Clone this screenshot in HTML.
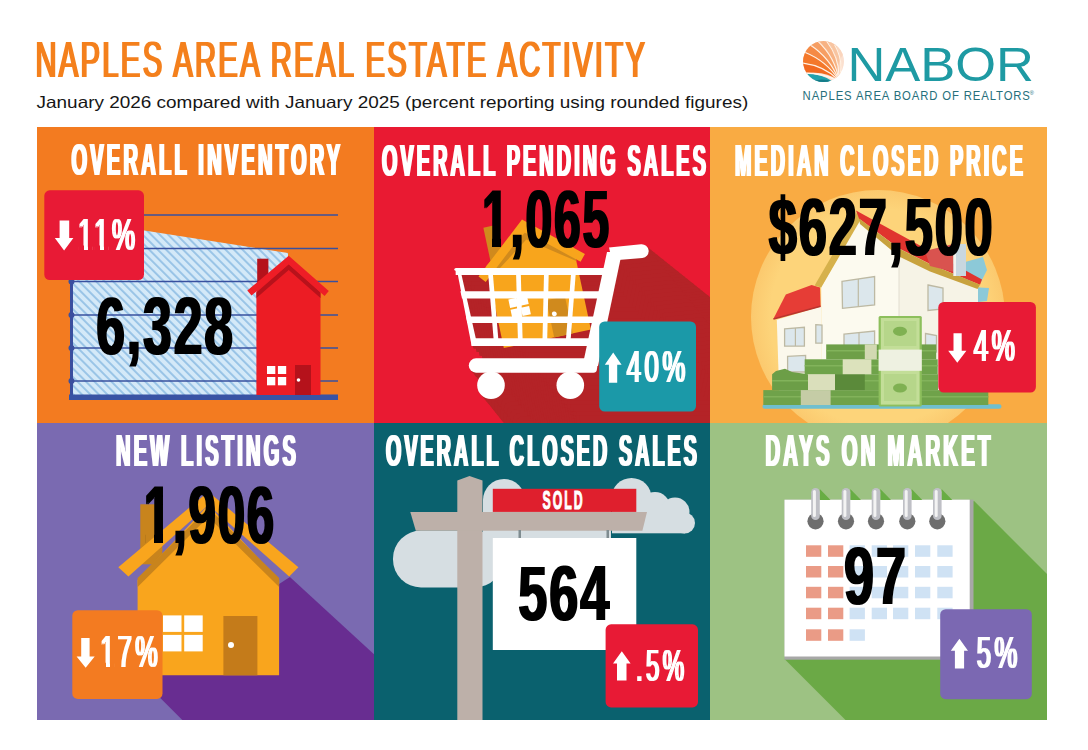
<!DOCTYPE html>
<html>
<head>
<meta charset="utf-8">
<title>Naples Area Real Estate Activity</title>
<style>
html,body{margin:0;padding:0;background:#fff;}
body{width:1088px;height:750px;overflow:hidden;}
svg{display:block;}
text{font-family:"Liberation Sans",sans-serif;}
.t{font-weight:normal;fill:#fff;letter-spacing:6px;filter:url(#dxb);}
.tt{font-weight:bold;fill:#fff;letter-spacing:7px;filter:url(#dx);}
.n{font-weight:bold;fill:#000;letter-spacing:3px;filter:url(#dxn);}
</style>
</head>
<body>
<svg width="1088" height="750" viewBox="0 0 1088 750">
<defs>
  <pattern id="hatch" patternUnits="userSpaceOnUse" width="6" height="6" patternTransform="rotate(-45)">
    <rect width="6" height="6" fill="#D4E9F8"/>
    <rect x="0" y="0" width="1.9" height="6" fill="#97C3E6"/>
  </pattern>
  <filter id="dx" x="-5%" y="-10%" width="110%" height="120%"><feMorphology operator="dilate" radius="1 0"/></filter>
  <filter id="dxb" x="-5%" y="-10%" width="110%" height="120%"><feMorphology operator="dilate" radius="1.3 0"/></filter>
  <filter id="dxh" x="-5%" y="-10%" width="110%" height="120%"><feMorphology operator="dilate" radius="1 0"/></filter>
  <filter id="dxn" x="-5%" y="-10%" width="110%" height="120%"><feMorphology operator="dilate" radius="1 0"/></filter>
  <radialGradient id="circg" cx="0.5" cy="0.5" r="0.5"><stop offset="0.85" stop-color="#FDD47A"/><stop offset="1" stop-color="#FBC96E"/></radialGradient>
  <clipPath id="nf1"><path clip-rule="evenodd" d="M0 0H1088V750H0Z M483.5 237.7H492.0V248.5H483.5Z M501.0 237.7H509.5V248.5H501.0Z"/></clipPath>
  <clipPath id="nf2"><path clip-rule="evenodd" d="M0 0H1088V750H0Z M145.5 533.6H154.0V544.5H145.5Z M163.0 533.6H171.5V544.5H163.0Z"/></clipPath>
  <clipPath id="nf3"><path clip-rule="evenodd" d="M0 0H1088V750H0Z M78.5 245.5H84.0V251.3H78.5Z M88.0 245.5H92.5V251.3H88.0Z M94.5 245.5H100.0V251.3H94.5Z M104.0 245.5H108.5V251.3H104.0Z"/></clipPath>
  <clipPath id="nf4"><path clip-rule="evenodd" d="M0 0H1088V750H0Z M100.5 662.7H106.0V668.5H100.5Z M110.0 662.7H114.5V668.5H110.0Z"/></clipPath>
  <clipPath id="c1"><rect x="37" y="127" width="337" height="296"/></clipPath>
  <clipPath id="c2"><rect x="374" y="127" width="336" height="296"/></clipPath>
  <clipPath id="c3"><rect x="710" y="127" width="337" height="296"/></clipPath>
  <clipPath id="c4"><rect x="37" y="423" width="337" height="297"/></clipPath>
  <clipPath id="c5"><rect x="374" y="423" width="336" height="297"/></clipPath>
  <clipPath id="c6"><rect x="710" y="423" width="337" height="297"/></clipPath>
  <clipPath id="shellclip"><circle cx="823.5" cy="61.5" r="20.5"/></clipPath>
  <g id="cartsil">
    <polygon points="455.6,267.9 612,267.9 612,274.9 455.7,274.9"/>
    <path d="M 456.5,267.9 L 460,267.9 L 477.5,345.9 L 471.7,345.9 Z"/>
    <path d="M 454.1,270 Q 454.1,267.9 456.5,267.9 L 458,272 Z"/>
    <polygon points="460.4,291.3 606,291.3 605,298.4 462.0,298.4"/>
    <polygon points="466.0,316.5 600,316.5 598,323 467.5,323"/>
    <polygon points="470.9,338.3 592,338.3 590,345.9 471.7,345.9"/>
    <polygon points="488.2,274 492.9,274 498.3,339 493.6,339"/>
    <polygon points="516.1,274 520.8,274 522.6,339 517.9,339"/>
    <polygon points="544,274 548.7,274 547.2,339 542.5,339"/>
    <polygon points="571,274 575.7,274 570.7,339 566,339"/>
    <polygon points="607,252 622,252 598,366 582.5,366"/>
    <path d="M 609,247.5 L 641,244.2 A 6.9 6.9 0 0 1 642.4,258 L 612,260.5 Z"/>
    <path d="M 476,358.3 L 596,358.3 Q 598.5,358.3 598,362 L 596.8,370 Q 596.3,372.7 593.5,372.7 L 476,372.7 A 7.2 7.2 0 0 1 476,358.3 Z"/>
    <circle cx="491" cy="385.2" r="13.8"/>
    <circle cx="570.3" cy="385.2" r="13.8"/>
  </g>
</defs>

<!-- HEADER -->
<text x="35.4" y="76.9" font-size="50.4" fill="#F4801F" letter-spacing="4" filter="url(#dxh)" textLength="611.8" lengthAdjust="spacingAndGlyphs">NAPLES AREA REAL ESTATE ACTIVITY</text>
<text x="36.6" y="108" font-size="16.5" fill="#161616" textLength="711.6" lengthAdjust="spacingAndGlyphs">January 2026 compared with January 2025 (percent reporting using rounded figures)</text>

<!-- NABOR logo -->
<g clip-path="url(#shellclip)">
  <rect x="800" y="38" width="48" height="48" fill="#FBE0CF"/>
  <path d="M 839.0 80.5 Q 824.2 70.2 806.5 73.5 L 796.8 71.4 L 792.5 57.8 L 803.2 63.0 Q 824.2 65.5 839.0 80.5 Z" fill="#F2691F"/>
  <path d="M 839.0 80.5 Q 824.2 65.5 803.2 63.0 L 792.5 57.8 L 795.5 43.4 L 805.5 52.0 Q 826.8 60.9 839.0 80.5 Z" fill="#F4782A"/>
  <path d="M 839.0 80.5 Q 826.8 60.9 805.5 52.0 L 795.5 43.4 L 802.6 33.7 L 811.0 44.5 Q 830.5 58.2 839.0 80.5 Z" fill="#F58A45"/>
  <path d="M 839.0 80.5 Q 830.5 58.2 811.0 44.5 L 802.6 33.7 L 813.0 28.9 L 819.0 40.8 Q 835.3 57.5 839.0 80.5 Z" fill="#F69E63"/>
  <path d="M 839.0 80.5 Q 835.3 57.5 819.0 40.8 L 813.0 28.9 L 824.7 29.1 L 828.0 41.0 Q 840.2 58.9 839.0 80.5 Z" fill="#F7B283"/>
  <path d="M 839.0 80.5 Q 840.2 58.9 828.0 41.0 L 824.7 29.1 L 835.1 33.7 L 836.0 44.5 Q 844.5 61.9 839.0 80.5 Z" fill="#F8C4A0"/>
  <path d="M 839.0 80.5 Q 844.5 61.9 836.0 44.5 L 835.1 33.7 L 844.9 46.0 L 843.5 54.0 Q 834.3 66.1 839.0 80.5 Z" fill="#FAD5BD"/>
  <path d="M 836 84 Q 823.8 73.1 800.5 73.0 L 790 100 L 850 100 Z" fill="#22A1AC"/>
  <path d="M 813 81 Q 823 77.5 833 81.8 L 833 86 L 813 86 Z" fill="#147C89"/>
  <path d="M 839 81.5 Q 823.8 72.6 800.5 73.0" stroke="#FFF6EE" stroke-width="1.3" fill="none"/>
  <g stroke="#FFF1E4" stroke-width="1.1" fill="none"><path d="M 839.0 80.5 Q 824.2 65.5 801.7 63.0"/><path d="M 839.0 80.5 Q 826.8 60.9 804.0 52.0"/><path d="M 839.0 80.5 Q 830.5 58.2 809.5 44.5"/><path d="M 839.0 80.5 Q 835.3 57.5 817.5 40.8"/><path d="M 839.0 80.5 Q 840.2 58.9 826.5 41.0"/><path d="M 839.0 80.5 Q 844.5 61.9 834.5 44.5"/></g>
</g>
<text x="847.4" y="81" font-size="48.5" fill="#1E9AA3" textLength="186.6" lengthAdjust="spacingAndGlyphs">NABOR</text>
<text x="802.6" y="100.3" font-size="12.8" fill="#266F7B" letter-spacing="1" textLength="228.2" lengthAdjust="spacingAndGlyphs">NAPLES AREA BOARD OF REALTORS</text>
<text x="1029.4" y="95" font-size="6" fill="#266F7B">®</text>

<!-- PANEL 1: OVERALL INVENTORY -->
<g clip-path="url(#c1)">
  <rect x="37" y="127" width="337" height="296" fill="#F37B20"/>
  <polygon points="71,219 288,253 288,396 71,396" fill="url(#hatch)"/>
  <g stroke="#38509F" stroke-width="1.5">
    <line x1="71" y1="215" x2="338" y2="215"/>
    <line x1="71" y1="248.5" x2="338" y2="248.5"/>
    <line x1="71" y1="281.5" x2="338" y2="281.5"/>
    <line x1="71" y1="315" x2="338" y2="315"/>
    <line x1="71" y1="348" x2="338" y2="348"/>
    <line x1="71" y1="381" x2="338" y2="381"/>
  </g>
  <rect x="70" y="200" width="3" height="196" fill="#3A4F9F"/>
  <g fill="#3A4F9F">
    <circle cx="71.5" cy="281.5" r="3"/><circle cx="71.5" cy="315" r="3"/>
    <circle cx="71.5" cy="348" r="3"/><circle cx="71.5" cy="381" r="3"/>
  </g>
  <rect x="69" y="394.5" width="269" height="5.5" fill="#3953A4"/>
  <!-- house -->
  <rect x="257.2" y="258.7" width="11.2" height="30" fill="#B5121B"/>
  <polygon points="256.4,395 256.4,287.6 288.7,260 320.5,287.6 320.5,395" fill="#EC1C24"/>
  <polygon points="256.4,292.5 288.7,264.3 320.5,292.5 320.5,298 288.7,270 256.4,298" fill="#B8121B"/>
  <polygon points="247.3,290.5 288.7,255.8 328.8,291 324.6,296 288.7,264.3 251.5,295.5" fill="#EE1D26"/>
  <rect x="295" y="365" width="16" height="30" fill="#B5121B"/>
  <circle cx="298.5" cy="380" r="1.8" fill="#fff"/>
  <g fill="#fff">
    <rect x="267" y="366" width="8.3" height="8"/><rect x="277.9" y="366" width="8.3" height="8"/>
    <rect x="267" y="377" width="8.3" height="8.3"/><rect x="277.9" y="377" width="8.3" height="8.3"/>
  </g>
  <!-- badge -->
  <rect x="44.3" y="190.3" width="99.7" height="89.7" rx="5.5" fill="#E81A35"/>
  <polygon points="59.6,220.6 69.2,220.6 69.2,238 73.4,238 64.1,250.6 54.8,238 59.6,238" fill="#fff"/>
  <text class="t" clip-path="url(#nf3)" x="78.0" y="250" font-size="43.5" textLength="60.8" lengthAdjust="spacingAndGlyphs">11%</text>
  <text class="tt" x="71.4" y="175" font-size="43.5" textLength="272.0" lengthAdjust="spacingAndGlyphs">OVERALL INVENTORY</text>
  <text class="n" x="96.2" y="354" font-size="80.8" textLength="138.8" lengthAdjust="spacingAndGlyphs">6,328</text>
</g>

<!-- PANEL 2: OVERALL PENDING SALES -->
<g clip-path="url(#c2)">
  <rect x="374" y="127" width="336" height="296" fill="#E91A32"/>
  <!-- shadow (sweep of cart along 45deg) -->
  <g fill="#B42327">
    <use href="#cartsil" transform="translate(2,1.6)"/>
    <use href="#cartsil" transform="translate(5,4.0)"/>
    <use href="#cartsil" transform="translate(8,6.4)"/>
    <use href="#cartsil" transform="translate(11,8.8)"/>
    <use href="#cartsil" transform="translate(14,11.2)"/>
    <use href="#cartsil" transform="translate(17,13.6)"/>
    <use href="#cartsil" transform="translate(20,16.0)"/>
    <use href="#cartsil" transform="translate(23,18.4)"/>
    <use href="#cartsil" transform="translate(26,20.8)"/>
    <use href="#cartsil" transform="translate(29,23.2)"/>
    <use href="#cartsil" transform="translate(32,25.6)"/>
    <use href="#cartsil" transform="translate(35,28.0)"/>
    <use href="#cartsil" transform="translate(38,30.4)"/>
    <use href="#cartsil" transform="translate(41,32.8)"/>
    <use href="#cartsil" transform="translate(44,35.2)"/>
    <use href="#cartsil" transform="translate(47,37.6)"/>
    <use href="#cartsil" transform="translate(50,40.0)"/>
    <use href="#cartsil" transform="translate(53,42.4)"/>
    <use href="#cartsil" transform="translate(56,44.8)"/>
    <use href="#cartsil" transform="translate(59,47.2)"/>
    <use href="#cartsil" transform="translate(62,49.6)"/>
    <use href="#cartsil" transform="translate(65,52.0)"/>
    <use href="#cartsil" transform="translate(68,54.4)"/>
    <use href="#cartsil" transform="translate(71,56.8)"/>
    <use href="#cartsil" transform="translate(74,59.2)"/>
    <use href="#cartsil" transform="translate(77,61.6)"/>
    <use href="#cartsil" transform="translate(80,64.0)"/>
    <use href="#cartsil" transform="translate(83,66.4)"/>
    <use href="#cartsil" transform="translate(86,68.8)"/>
    <use href="#cartsil" transform="translate(89,71.2)"/>
    <use href="#cartsil" transform="translate(92,73.6)"/>
    <use href="#cartsil" transform="translate(95,76.0)"/>
    <use href="#cartsil" transform="translate(98,78.4)"/>
    <use href="#cartsil" transform="translate(101,80.8)"/>
    <use href="#cartsil" transform="translate(104,83.2)"/>
    <use href="#cartsil" transform="translate(107,85.6)"/>
    <use href="#cartsil" transform="translate(110,88.0)"/>
    <use href="#cartsil" transform="translate(113,90.4)"/>
    <use href="#cartsil" transform="translate(116,92.8)"/>
    <use href="#cartsil" transform="translate(119,95.2)"/>
    <use href="#cartsil" transform="translate(122,97.6)"/>
    <use href="#cartsil" transform="translate(125,100.0)"/>
    <use href="#cartsil" transform="translate(128,102.4)"/>
    <use href="#cartsil" transform="translate(131,104.8)"/>
    <use href="#cartsil" transform="translate(134,107.2)"/>
    <use href="#cartsil" transform="translate(137,109.6)"/>
    <use href="#cartsil" transform="translate(140,112.0)"/>
    <use href="#cartsil" transform="translate(143,114.4)"/>
    <use href="#cartsil" transform="translate(146,116.8)"/>
    <use href="#cartsil" transform="translate(149,119.2)"/>
    <use href="#cartsil" transform="translate(152,121.6)"/>
    <use href="#cartsil" transform="translate(155,124.0)"/>
    <use href="#cartsil" transform="translate(158,126.4)"/>
    <use href="#cartsil" transform="translate(161,128.8)"/>
    <use href="#cartsil" transform="translate(164,131.2)"/>
    <use href="#cartsil" transform="translate(167,133.6)"/>
    <use href="#cartsil" transform="translate(2,2.5)"/>
    <use href="#cartsil" transform="translate(5,6.2)"/>
    <use href="#cartsil" transform="translate(8,9.9)"/>
    <use href="#cartsil" transform="translate(11,13.6)"/>
    <use href="#cartsil" transform="translate(14,17.4)"/>
    <use href="#cartsil" transform="translate(17,21.1)"/>
    <use href="#cartsil" transform="translate(20,24.8)"/>
    <use href="#cartsil" transform="translate(23,28.5)"/>
    <use href="#cartsil" transform="translate(26,32.2)"/>
    <use href="#cartsil" transform="translate(29,36.0)"/>
    <use href="#cartsil" transform="translate(32,39.7)"/>
    <use href="#cartsil" transform="translate(35,43.4)"/>
    <use href="#cartsil" transform="translate(38,47.1)"/>
    <use href="#cartsil" transform="translate(41,50.8)"/>
    <use href="#cartsil" transform="translate(44,54.6)"/>
    <use href="#cartsil" transform="translate(47,58.3)"/>
    <use href="#cartsil" transform="translate(50,62.0)"/>
    <use href="#cartsil" transform="translate(53,65.7)"/>
    <use href="#cartsil" transform="translate(56,69.4)"/>
    <use href="#cartsil" transform="translate(59,73.2)"/>
    <use href="#cartsil" transform="translate(62,76.9)"/>
    <use href="#cartsil" transform="translate(65,80.6)"/>
    <use href="#cartsil" transform="translate(68,84.3)"/>
    <use href="#cartsil" transform="translate(71,88.0)"/>
    <use href="#cartsil" transform="translate(74,91.8)"/>
    <use href="#cartsil" transform="translate(77,95.5)"/>
    <use href="#cartsil" transform="translate(80,99.2)"/>
    <use href="#cartsil" transform="translate(83,102.9)"/>
    <use href="#cartsil" transform="translate(86,106.6)"/>
    <use href="#cartsil" transform="translate(89,110.4)"/>
    <use href="#cartsil" transform="translate(92,114.1)"/>
    <use href="#cartsil" transform="translate(95,117.8)"/>
    <use href="#cartsil" transform="translate(98,121.5)"/>
    <use href="#cartsil" transform="translate(101,125.2)"/>
    <use href="#cartsil" transform="translate(104,129.0)"/>
    <use href="#cartsil" transform="translate(107,132.7)"/>
    <use href="#cartsil" transform="translate(110,136.4)"/>
    <use href="#cartsil" transform="translate(113,140.1)"/>
    <use href="#cartsil" transform="translate(116,143.8)"/>
    <use href="#cartsil" transform="translate(119,147.6)"/>
  </g>
  <!-- house in cart -->
  <g transform="translate(522,219.5) rotate(-12)">
    <rect x="-39.5" y="0" width="12.5" height="45" fill="#D08A1D"/>
    <polygon points="-44.5,38 0,6 44.5,38 44.5,122 -44.5,122" fill="#F8A51C"/>
    <polygon points="-44.5,45 0,13.5 44.5,45 44.5,52 0,20.5 -44.5,52" fill="#D08A1D"/>
    <polygon points="-54.4,46.8 0,0 54.4,46.8 48.5,53.6 0,11.8 -48.5,53.6" fill="#F8A51C"/>
    <rect x="7" y="84" width="19" height="38" fill="#D08A1D"/>
    <circle cx="12" cy="99" r="2.4" fill="#fff"/>
    <g fill="#fff"><rect x="-30" y="75.5" width="8.5" height="8.5"/><rect x="-19.5" y="75.5" width="8.5" height="8.5"/><rect x="-30" y="86" width="8.5" height="8.5"/><rect x="-19.5" y="86" width="8.5" height="8.5"/></g>
  </g>
  <!-- cart -->
  <use href="#cartsil" fill="#fff"/>
  <!-- badge -->
  <rect x="599.2" y="321.5" width="96.8" height="90.1" rx="5.5" fill="#1B99A8"/>
  <polygon points="608.9,382.7 617.2,382.7 617.2,364.7 621.6,364.7 613.2,352.5 604.8,364.7 608.9,364.7" fill="#fff"/>
  <text class="t" x="626.8" y="382" font-size="43.5" textLength="62.0" lengthAdjust="spacingAndGlyphs">40%</text>
  <text class="tt" x="382.0" y="175.8" font-size="43.5" textLength="327.0" lengthAdjust="spacingAndGlyphs">OVERALL PENDING SALES</text>
  <text class="n" clip-path="url(#nf1)" x="482.0" y="247.2" font-size="80.8" textLength="129.0" lengthAdjust="spacingAndGlyphs">1,065</text>
</g>

<!-- PANEL 3: MEDIAN CLOSED PRICE -->
<g clip-path="url(#c3)">
  <rect x="710" y="127" width="337" height="296" fill="#F9AB43"/>
  <circle cx="878" cy="317" r="127" fill="url(#circg)"/>
  <!-- light blue bits -->
  <polygon points="965,262 983,257 987,270 981,282 966,281" fill="#8CC9D8"/>
  <polygon points="971,287 989,288 987,301 971,303" fill="#8CC9D8"/>
  <!-- left wing -->
  <polygon points="776.8,319.8 821,306.6 821.5,402 779.5,402" fill="#FBF8EC"/>
  <polygon points="773.2,319.2 785.8,294.6 811.6,285 820,287.4 820.6,306.6" fill="#E63D36"/>
  <line x1="773.5" y1="319" x2="820.6" y2="306.3" stroke="#B93530" stroke-width="1.6"/>
  <!-- main walls -->
  <polygon points="821.2,402 821.2,287 859,221 978,287.5 978,402" fill="#FCFAEF"/>
  <polygon points="899,252 978,287.5 978,402 899,402" fill="#F6F3E6"/>
  <line x1="899" y1="252" x2="899" y2="402" stroke="#E2DED0" stroke-width="1"/>
  <!-- gable trim and roof -->
  <polygon points="814.6,285.6 821.2,287.5 861,219 857.5,211.5" fill="#D6B14B"/>
  <polygon points="856,210.5 982,279.5 980,284.8 930,264 899,248.5 859,218.5" fill="#E0332E"/>
  <polygon points="859,218.5 899,248.5 930,264 980,284.8 977.5,289 930,271.5 899,256.5 860,224" fill="#C8A23E"/>
  <polygon points="925,251 953,244 954,272 930,266" fill="#D9534F"/>
  <rect x="953.5" y="244" width="12.5" height="32" fill="#C8D7DF"/>
  <rect x="953.5" y="244" width="2.5" height="32" fill="#F2F2EE"/>
  <!-- windows -->
  <g fill="#DCE7EC" stroke="#BDB9A3" stroke-width="1.3">
    <polygon points="842,281.4 874.6,276.5 874.6,305 842.5,308.4"/>
    <polygon points="928,285 943,288 943,309 928,310.5"/>
    <polygon points="784.6,328.8 804.4,327.3 804.4,346 784.6,346.2"/>
    <polygon points="815.8,324.6 822,325 822,343.2 815.8,343.2"/>
    <polygon points="844,334.2 874.6,331 874.6,350 844,350"/>
    <polygon points="925.5,333.5 936.5,335.5 936.5,352 925.5,352"/>
    <polygon points="787.6,356.4 805.6,355.4 805.6,372 787.6,372"/>
  </g>
  <g stroke="#BDB9A3" stroke-width="1.2">
    <line x1="858.3" y1="279" x2="858.3" y2="306.5"/>
    <line x1="795.4" y1="328" x2="795.4" y2="346"/>
    <line x1="859" y1="332.5" x2="859" y2="350"/>
  </g>
  <!-- money -->
  <rect x="762.5" y="404.2" width="239" height="4.6" rx="2.3" fill="#6FBFCF"/>
  <rect x="763.3" y="390.1" width="225" height="14.9" fill="#6FA24A"/>
  <rect x="763.3" y="396" width="225" height="1.5" fill="#82B25A"/>
  <polygon points="772.1,374.2 776,371 785,368.8 792,372 808,374.2 808,390.1 772.1,390.1" fill="#6C9E47"/>
  <rect x="808" y="374.2" width="130" height="15.9" fill="#72A54C"/>
  <rect x="804.7" y="359.3" width="133" height="14.9" fill="#6FA34A"/>
  <rect x="826.2" y="344.4" width="110" height="14.9" fill="#6E9F48"/>
  <g fill="#82B35B">
    <rect x="808" y="380" width="130" height="1.5"/><rect x="804.7" y="365" width="133" height="1.5"/><rect x="826.2" y="350" width="110" height="1.5"/><rect x="772" y="380" width="36" height="1.5"/>
  </g>
  <rect x="835" y="374.2" width="29.8" height="15.9" fill="#5B8A3A"/>
  <rect x="800.8" y="390.1" width="29.8" height="14.9" fill="#C5CCA6"/>
  <rect x="808" y="374.2" width="27" height="15.9" fill="#DADFBB"/>
  <rect x="842.7" y="359.3" width="28.7" height="14.9" fill="#DCE2BC"/>
  <rect x="864.8" y="344.4" width="12" height="14.9" fill="#D2D9B2"/>
  <!-- upright bill stack -->
  <rect x="878.6" y="316" width="43.2" height="90.6" rx="1.5" fill="#8DBF5C"/>
  <rect x="880.8" y="318" width="38.8" height="86.6" fill="#C3DE98"/>
  <rect x="884" y="321" width="32.4" height="25" fill="#B6D68A"/>
  <rect x="884" y="374" width="32.4" height="27" fill="#B6D68A"/>
  <rect x="878.6" y="349.6" width="43.2" height="21.2" fill="#EEF1E1"/>
  <ellipse cx="900" cy="331.3" rx="7" ry="4.6" fill="#7FB152"/>
  <ellipse cx="900" cy="388" rx="7" ry="4.6" fill="#7FB152"/>
  <!-- badge -->
  <rect x="938.3" y="301.9" width="97.6" height="90.6" rx="5.5" fill="#E81A35"/>
  <polygon points="953.5,333.2 961.7,333.2 961.7,350.7 966.4,350.7 957.3,362.7 948.2,350.7 953.5,350.7" fill="#fff"/>
  <text class="t" x="973.8" y="360.8" font-size="43.5" textLength="44.8" lengthAdjust="spacingAndGlyphs">4%</text>
  <text class="tt" x="735.0" y="175.8" font-size="43.5" textLength="291.0" lengthAdjust="spacingAndGlyphs">MEDIAN CLOSED PRICE</text>
  <text class="n" x="768.8" y="255.4" font-size="81" textLength="225.8" lengthAdjust="spacingAndGlyphs">$627,500</text>
</g>

<!-- PANEL 4: NEW LISTINGS -->
<g clip-path="url(#c4)">
  <rect x="37" y="423" width="337" height="297" fill="#7A6AB1"/>
  <polygon points="137.6,675.3 289.9,577 689.9,945 437.6,975.3" fill="#682D91"/>
  <rect x="140.3" y="504.3" width="22" height="60" fill="#C8841D"/>
  <polygon points="137.6,580 208.3,505 279.1,580 279.1,675.3 137.6,675.3" fill="#F9A51D"/>
  <polygon points="137.6,578 208.3,508 279.1,578 279.1,587 208.3,517 137.6,587" fill="#C8841D"/>
  <polygon points="118.3,567.2 208.3,491.7 298.4,567.2 289.2,576.4 208.3,505 128.4,576.4" fill="#F9A51D"/>
  <rect x="223.4" y="616" width="34" height="59.3" fill="#C47B1A"/>
  <circle cx="231" cy="645" r="3" fill="#fff"/>
  <g fill="#fff">
    <rect x="163" y="615.4" width="18.5" height="16.5"/><rect x="184.2" y="615.4" width="18.5" height="16.5"/>
    <rect x="163" y="634.9" width="18.5" height="16.5"/><rect x="184.2" y="634.9" width="18.5" height="16.5"/>
  </g>
  <rect x="72.3" y="610.2" width="90.2" height="88.7" rx="5.5" fill="#F37B21"/>
  <polygon points="81.2,638 89.6,638 89.6,656.4 94.7,656.4 85.65,667.8 76.6,656.4 81.2,656.4" fill="#fff"/>
  <text class="t" clip-path="url(#nf4)" x="100.2" y="667.2" font-size="43.5" textLength="61.0" lengthAdjust="spacingAndGlyphs">17%</text>
  <text class="tt" x="116.0" y="465.5" font-size="43.5" textLength="183.0" lengthAdjust="spacingAndGlyphs">NEW LISTINGS</text>
  <text class="n" clip-path="url(#nf2)" x="143.8" y="543.2" font-size="81" textLength="132.2" lengthAdjust="spacingAndGlyphs">1,906</text>
</g>

<!-- PANEL 5: OVERALL CLOSED SALES -->
<g clip-path="url(#c5)">
  <rect x="374" y="423" width="336" height="297" fill="#0A616E"/>
  <!-- clouds -->
  <g fill="#D6DEE2">
    <rect x="393" y="530.5" width="110" height="57" rx="28"/>
    <circle cx="504" cy="500" r="21"/>
    <rect x="483" y="500" width="128" height="40"/>
    <circle cx="631.5" cy="498" r="20"/>
    <circle cx="655" cy="507" r="15"/>
    <circle cx="675" cy="512" r="14.5"/>
    <circle cx="684.5" cy="523" r="10.5"/>
    <rect x="612" y="505" width="73" height="28.3"/>
  </g>
  <!-- post -->
  <polygon points="457.3,480.6 469.5,476 482.5,480.6 482.5,725 457.3,725" fill="#BDB0A9"/>
  <polygon points="410.3,511.9 647,511.9 642.4,530.7 415.8,530.7" fill="#BDB0A9"/>
  <rect x="492.8" y="488.8" width="143.5" height="23.1" fill="#DF1F2D"/>
  <text class="tt" style="letter-spacing:4px;filter:none;stroke:#fff;stroke-width:1.1px" x="542.6" y="508.8" font-size="25" textLength="42.0" lengthAdjust="spacingAndGlyphs">SOLD</text>
  <rect x="518.5" y="530" width="2.5" height="9" fill="#7F8C90"/>
  <rect x="606.5" y="530" width="2.5" height="9" fill="#7F8C90"/>
  <rect x="492.8" y="538" width="143.5" height="112" fill="#fff"/>
  <rect x="605.6" y="624.3" width="92.4" height="83.1" rx="5.5" fill="#E81A35"/>
  <polygon points="617,680.6 626.5,680.6 626.5,663.6 630.6,663.6 621.8,651.3 613,663.6 617,663.6" fill="#fff"/>
  <text class="t" x="636.0" y="680.6" font-size="43.5" textLength="51.4" lengthAdjust="spacingAndGlyphs">.5%</text>
  <text class="tt" x="386.0" y="465.6" font-size="43.5" textLength="314.0" lengthAdjust="spacingAndGlyphs">OVERALL CLOSED SALES</text>
  <text class="n" x="518.3" y="620.4" font-size="78.7" textLength="93.0" lengthAdjust="spacingAndGlyphs">564</text>
</g>

<!-- PANEL 6: DAYS ON MARKET -->
<g clip-path="url(#c6)">
  <rect x="710" y="423" width="337" height="297" fill="#9DC283"/>
  <polygon points="784.5,659 973.9,500.8 1273.9,800.8 925.5,800" fill="#6BA946"/>
  <rect x="784.5" y="499.7" width="189" height="160" fill="#A7A7A7"/>
  <rect x="784.5" y="499.7" width="185.2" height="156.8" fill="#fff"/>
  <g fill="#EA9B86">
    <rect x="806" y="545.3" width="15.3" height="11.5"/><rect x="828" y="545.3" width="15.3" height="11.5"/>
    <rect x="806" y="566" width="15.3" height="11.5"/><rect x="828" y="566" width="15.3" height="11.5"/>
    <rect x="806" y="586.8" width="15.3" height="11.5"/><rect x="828" y="586.8" width="15.3" height="11.5"/>
    <rect x="806" y="607.7" width="15.3" height="11.5"/><rect x="828" y="607.7" width="15.3" height="11.5"/>
    <rect x="806" y="629.3" width="15.3" height="11.5"/><rect x="828" y="629.3" width="15.3" height="11.5"/>
  </g>
  <g fill="#CFE2F4">
    <rect x="849.6" y="545.3" width="15.3" height="11.5"/><rect x="871.7" y="545.3" width="15.3" height="11.5"/><rect x="893" y="545.3" width="15.3" height="11.5"/><rect x="915" y="545.3" width="15.3" height="11.5"/><rect x="937.3" y="545.3" width="15.3" height="11.5"/>
    <rect x="849.6" y="566" width="15.3" height="11.5"/><rect x="871.7" y="566" width="15.3" height="11.5"/><rect x="893" y="566" width="15.3" height="11.5"/><rect x="915" y="566" width="15.3" height="11.5"/><rect x="937.3" y="566" width="15.3" height="11.5"/>
    <rect x="849.6" y="586.8" width="15.3" height="11.5"/><rect x="871.7" y="586.8" width="15.3" height="11.5"/><rect x="893" y="586.8" width="15.3" height="11.5"/><rect x="915" y="586.8" width="15.3" height="11.5"/><rect x="937.3" y="586.8" width="15.3" height="11.5"/>
    <rect x="849.6" y="607.7" width="15.3" height="11.5"/><rect x="871.7" y="607.7" width="15.3" height="11.5"/><rect x="893" y="607.7" width="15.3" height="11.5"/><rect x="915" y="607.7" width="15.3" height="11.5"/><rect x="937.3" y="607.7" width="15.3" height="11.5"/>
    <rect x="849.6" y="629.3" width="15.3" height="11.5"/>
  </g>
  <!-- rings -->
  <g fill="#68AD44"><polygon points="819.8,489 819.8,500 830.5,500"/><polygon points="850.3,489 850.3,500 861.0,500"/><polygon points="880.3,489 880.3,500 891.0,500"/><polygon points="911.6,489 911.6,500 922.3,500"/><polygon points="941.6,489 941.6,500 952.3,500"/></g>
  <g fill="#6E6E6E"><circle cx="815.5" cy="521.3" r="8.1"/><circle cx="846.0" cy="521.3" r="8.1"/><circle cx="876.0" cy="521.3" r="8.1"/><circle cx="907.3" cy="521.3" r="8.1"/><circle cx="937.3" cy="521.3" r="8.1"/></g>
  <g fill="#BFC0C6"><rect x="811.2" y="488" width="8.6" height="32" rx="4.3"/><rect x="841.7" y="488" width="8.6" height="32" rx="4.3"/><rect x="871.7" y="488" width="8.6" height="32" rx="4.3"/><rect x="903.0" y="488" width="8.6" height="32" rx="4.3"/><rect x="933.0" y="488" width="8.6" height="32" rx="4.3"/></g>
  <g fill="#F3F3F3"><rect x="812.9" y="490" width="3" height="27" rx="1.5"/><rect x="843.4" y="490" width="3" height="27" rx="1.5"/><rect x="873.4" y="490" width="3" height="27" rx="1.5"/><rect x="904.7" y="490" width="3" height="27" rx="1.5"/><rect x="934.7" y="490" width="3" height="27" rx="1.5"/></g>
  <rect x="940.2" y="609.2" width="91.6" height="90" rx="5.5" fill="#7B68B2"/>
  <polygon points="954.9,668.5 964.1,668.5 964.1,650.8 968,650.8 959.4,638.7 950.8,650.8 954.9,650.8" fill="#fff"/>
  <text class="t" x="976.8" y="668.1" font-size="43.5" textLength="44.2" lengthAdjust="spacingAndGlyphs">5%</text>
  <text class="tt" x="765.5" y="465.6" font-size="43.5" textLength="228.0" lengthAdjust="spacingAndGlyphs">DAYS ON MARKET</text>
  <text class="n" x="844.0" y="604.2" font-size="81.2" textLength="64.0" lengthAdjust="spacingAndGlyphs">97</text>
</g>
</svg>
</body>
</html>
